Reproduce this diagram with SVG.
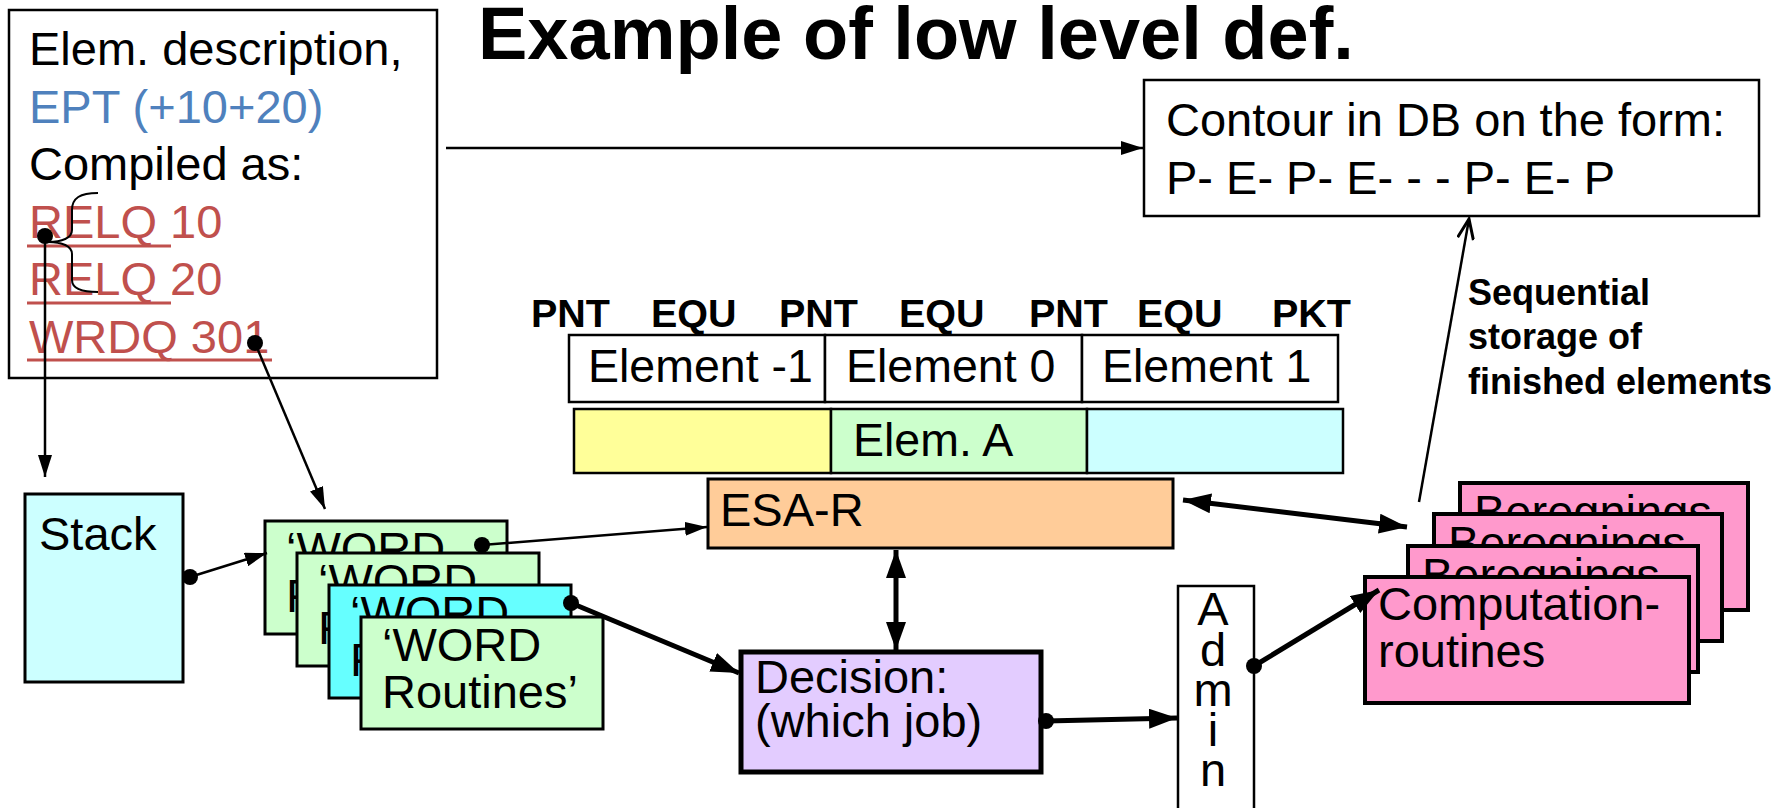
<svg xmlns="http://www.w3.org/2000/svg" width="1784" height="808" viewBox="0 0 1784 808">
  <style>
    text { font-family: "Liberation Sans", Arial, sans-serif; fill: #000; }
    .t47 { font-size: 47px; }
    .t46 { font-size: 46.5px; }
    .b40 { font-size: 39.5px; font-weight: bold; }
    .b36 { font-size: 36px; font-weight: bold; }
    .title { font-size: 74px; font-weight: bold; }
    .blue { fill: #4F81BD; }
    .red { fill: #C0504D; }
    .box { stroke: #000; }
    .thin { fill: none; stroke: #000; stroke-width: 2.5; }
    .thick { fill: none; stroke: #000; stroke-width: 5; }
    .uline { stroke: #C0504D; stroke-width: 3; }
  </style>
  <defs>
    <marker id="ah" markerUnits="userSpaceOnUse" markerWidth="22" markerHeight="14" refX="22" refY="7" orient="auto-start-reverse">
      <path d="M0,0 L22,7 L0,14 z" fill="#000"/>
    </marker>
    <marker id="ahBig" markerUnits="userSpaceOnUse" markerWidth="28" markerHeight="20" refX="28" refY="10" orient="auto-start-reverse">
      <path d="M0,0 L28,10 L0,20 z" fill="#000"/>
    </marker>
    <marker id="ahOpen" markerUnits="userSpaceOnUse" markerWidth="24" markerHeight="18" refX="22" refY="9" orient="auto">
      <path d="M2,1 L22,9 L2,17" fill="none" stroke="#000" stroke-width="3"/>
    </marker>
  </defs>

  <rect width="1784" height="808" fill="#fff"/>

  <!-- title -->
  <text class="title" x="478" y="59">Example of low level def.</text>

  <!-- element description -->
  <g id="elem-description">
    <rect class="box" x="9" y="10" width="428" height="368" fill="#fff" stroke-width="2.5"/>
    <text class="t47" x="29" y="65">Elem. description,</text>
    <text class="t47 blue" x="29" y="123">EPT (+10+20)</text>
    <text class="t47" x="29" y="180">Compiled as:</text>
    <text class="t47 red" x="29" y="238">RELQ 10</text>
    <text class="t47 red" x="29" y="295">RELQ 20</text>
    <text class="t47 red" x="29" y="353">WRDQ 301</text>
    <line class="uline" x1="27" y1="246" x2="171" y2="246"/>
    <line class="uline" x1="27" y1="303" x2="171" y2="303"/>
    <line class="uline" x1="27" y1="360" x2="272" y2="360"/>
    <path d="M98,193 C80,193 72,198 72,210 L72,230 C72,238 62,242 48,242 C62,242 72,246 72,254 L72,280 C72,288 80,292 98,292" fill="none" stroke="#000" stroke-width="2"/>
  </g>

  <!-- contour in DB -->
  <g id="contour-db">
    <rect class="box" x="1144" y="80" width="615" height="136" fill="#fff" stroke-width="2.5"/>
    <text class="t47" x="1166" y="136">Contour in DB on the form:</text>
    <text class="t47" x="1166" y="194">P- E- P- E- - - P- E- P</text>
  </g>

  <!-- sequential storage label -->
  <g id="storage-label">
    <text class="b36" x="1468" y="305">Sequential</text>
    <text class="b36" x="1468" y="349">storage of</text>
    <text class="b36" x="1468" y="394">finished elements</text>
  </g>

  <!-- point / element row -->
  <g id="element-row">
    <text class="b40" x="531" y="327">PNT</text>
    <text class="b40" x="651" y="327">EQU</text>
    <text class="b40" x="779" y="327">PNT</text>
    <text class="b40" x="899" y="327">EQU</text>
    <text class="b40" x="1029" y="327">PNT</text>
    <text class="b40" x="1137" y="327">EQU</text>
    <text class="b40" x="1272" y="327">PKT</text>
    <rect class="box" x="569" y="335" width="256" height="67" fill="#fff" stroke-width="2.5"/>
    <rect class="box" x="825" y="335" width="257" height="67" fill="#fff" stroke-width="2.5"/>
    <rect class="box" x="1082" y="335" width="256" height="67" fill="#fff" stroke-width="2.5"/>
    <text class="t46" x="588" y="382">Element -1</text>
    <text class="t46" x="846" y="382">Element 0</text>
    <text class="t46" x="1102" y="382">Element 1</text>
  </g>

  <!-- element buffer -->
  <g id="elem-buffer">
    <rect class="box" x="574" y="409" width="257" height="64" fill="#FFFF99" stroke-width="2.5"/>
    <rect class="box" x="831" y="409" width="256" height="64" fill="#CCFFCC" stroke-width="2.5"/>
    <rect class="box" x="1087" y="409" width="256" height="64" fill="#CCFFFF" stroke-width="2.5"/>
    <text class="t46" x="853" y="456">Elem. A</text>
  </g>

  <!-- ESA-R -->
  <g id="esa-r">
    <rect class="box" x="708" y="479" width="465" height="69" fill="#FFCC99" stroke-width="3"/>
    <text class="t47" x="720" y="526">ESA-R</text>
  </g>

  <!-- stack -->
  <g id="stack">
    <rect class="box" x="25" y="494" width="158" height="188" fill="#CCFFFF" stroke-width="3"/>
    <text class="t47" x="39" y="550">Stack</text>
  </g>

  <!-- WORD routines (stacked cards) -->
  <g id="word-routines">
    <g id="word-1">
      <rect class="box" x="265" y="521" width="242" height="113" fill="#CCFFCC" stroke-width="3"/>
      <text class="t47" x="286" y="565">‘WORD</text>
      <text class="t47" x="286" y="612">Routines’</text>
    </g>
    <g id="word-2">
      <rect class="box" x="297" y="553" width="242" height="113" fill="#CCFFCC" stroke-width="3"/>
      <text class="t47" x="318" y="597">‘WORD</text>
      <text class="t47" x="318" y="644">Routines’</text>
    </g>
    <g id="word-3">
      <rect class="box" x="329" y="585" width="242" height="113" fill="#66FFFF" stroke-width="3"/>
      <text class="t47" x="350" y="629">‘WORD</text>
      <text class="t47" x="350" y="676">Routines’</text>
    </g>
    <g id="word-4">
      <rect class="box" x="361" y="617" width="242" height="112" fill="#CCFFCC" stroke-width="3"/>
      <text class="t47" x="382" y="661">‘WORD</text>
      <text class="t47" x="382" y="708">Routines’</text>
    </g>
  </g>

  <!-- decision -->
  <g id="decision">
    <rect class="box" x="741" y="652" width="300" height="120" fill="#E3CCFF" stroke-width="5"/>
    <text class="t47" x="755" y="693">Decision:</text>
    <text class="t47" x="755" y="737">(which job)</text>
  </g>

  <!-- admin -->
  <g id="admin">
    <rect class="box" x="1178" y="586" width="76" height="230" fill="#fff" stroke-width="2.5"/>
    <text class="t47" x="1213" y="625" text-anchor="middle">A</text>
    <text class="t47" x="1213" y="666" text-anchor="middle">d</text>
    <text class="t47" x="1213" y="706" text-anchor="middle">m</text>
    <text class="t47" x="1213" y="746" text-anchor="middle">i</text>
    <text class="t47" x="1213" y="786" text-anchor="middle">n</text>
  </g>

  <!-- computation routines (stacked cards) -->
  <g id="computation-routines">
    <g id="calc-1">
      <rect class="box" x="1460" y="483" width="288" height="127" fill="#FF99CC" stroke-width="4"/>
      <text class="t47" x="1474" y="528">Beregnings</text>
    </g>
    <g id="calc-2">
      <rect class="box" x="1434" y="514" width="288" height="127" fill="#FF99CC" stroke-width="4"/>
      <text class="t47" x="1448" y="559">Beregnings</text>
    </g>
    <g id="calc-3">
      <rect class="box" x="1408" y="546" width="290" height="126" fill="#FF99CC" stroke-width="4"/>
      <text class="t47" x="1422" y="591">Beregnings</text>
    </g>
    <g id="calc-4">
      <rect class="box" x="1365" y="577" width="324" height="126" fill="#FF99CC" stroke-width="4"/>
      <text class="t47" x="1378" y="620">Computation-</text>
      <text class="t47" x="1378" y="667">routines</text>
    </g>
  </g>

  <!-- connectors -->
  <g id="connectors">
    <line class="thin" x1="446" y1="148" x2="1143" y2="148" marker-end="url(#ah)"/>
    <line class="thin" x1="45" y1="236" x2="45" y2="477" marker-end="url(#ah)"/>
    <circle cx="45" cy="236" r="8"/>
    <line class="thin" x1="255" y1="343" x2="325" y2="509" marker-end="url(#ah)"/>
    <circle cx="255" cy="343" r="8"/>
    <line class="thin" x1="190" y1="577" x2="267" y2="553" marker-end="url(#ah)"/>
    <circle cx="190" cy="577" r="8"/>
    <line class="thin" x1="482" y1="545" x2="707" y2="527" marker-end="url(#ah)"/>
    <circle cx="482" cy="545" r="8"/>
    <line class="thick" x1="571" y1="603" x2="739" y2="673" marker-end="url(#ahBig)"/>
    <circle cx="571" cy="603" r="8"/>
    <line class="thick" x1="896" y1="550" x2="896" y2="650" marker-start="url(#ahBig)" marker-end="url(#ahBig)"/>
    <line class="thick" x1="1046" y1="721" x2="1177" y2="718" marker-end="url(#ahBig)"/>
    <circle cx="1046" cy="721" r="8"/>
    <line class="thick" x1="1254" y1="666" x2="1379" y2="590" marker-end="url(#ahBig)"/>
    <circle cx="1254" cy="666" r="8"/>
    <line class="thick" x1="1183" y1="500" x2="1407" y2="527" stroke-width="4" marker-start="url(#ahBig)" marker-end="url(#ahBig)"/>
    <line class="thin" x1="1419" y1="502" x2="1469" y2="219" stroke-width="3" marker-end="url(#ahOpen)"/>
  </g>
</svg>
